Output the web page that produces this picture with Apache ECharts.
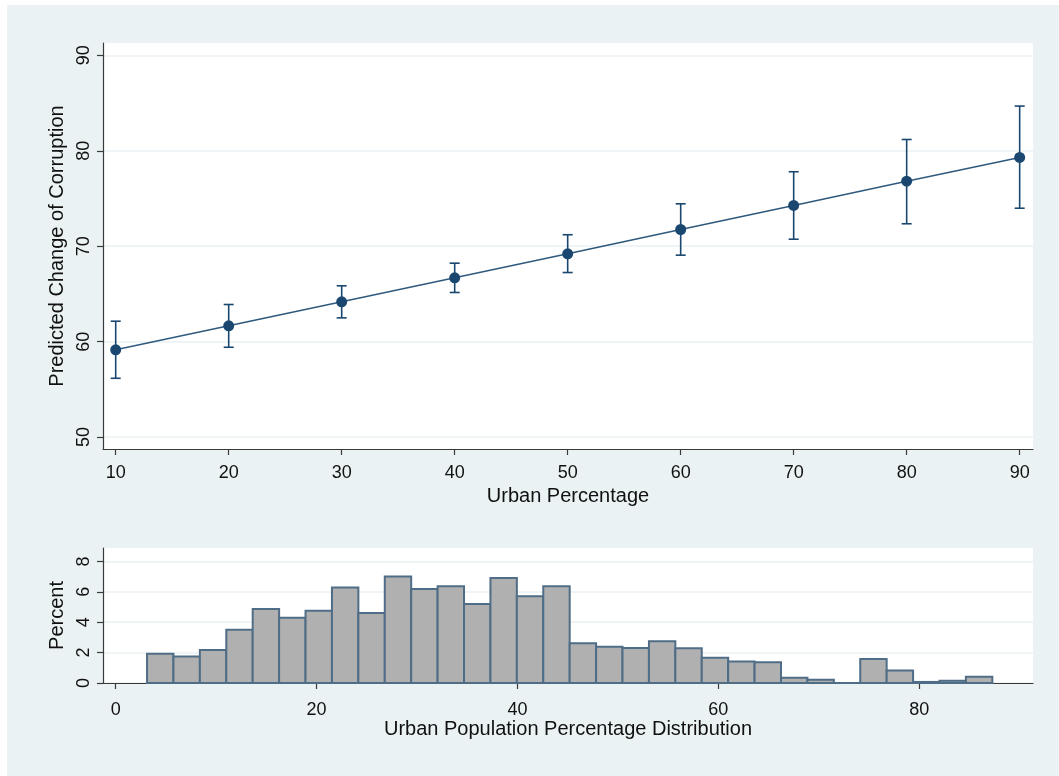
<!DOCTYPE html>
<html>
<head>
<meta charset="utf-8">
<script src="https://cdn.jsdelivr.net/npm/echarts@6/dist/echarts.min.js"></script>
<style>
  html, body { margin: 0; padding: 0; background: #ffffff; }
  #chart { position: absolute; left: 7px; top: 5px; width: 1052px; height: 771px; background: #EAF2F3; }
</style>
</head>
<body>
<div id="chart"></div>
<script>
// Predicted change of corruption by urban percentage (margins with 95% CI)
const urbanPct   = [10, 20, 30, 40, 50, 60, 70, 80, 90];
const predicted  = [59.14, 61.66, 64.17, 66.69, 69.20, 71.75, 74.27, 76.81, 79.30];
const ciLower    = [56.16, 59.41, 62.49, 65.15, 67.24, 69.06, 70.73, 72.35, 73.98];
const ciUpper    = [62.14, 63.89, 65.85, 68.22, 71.20, 74.44, 77.80, 81.18, 84.68];
const topXTicks  = [10, 20, 30, 40, 50, 60, 70, 80, 90];
const topYTicks  = [50, 60, 70, 80, 90];

// Histogram of urban population percentage (bin lower/upper edges and percent)
const binLow  = [3.12, 5.75, 8.38, 11.01, 13.64, 16.27, 18.90, 21.53, 24.16, 26.79, 29.42,
                 32.05, 34.68, 37.31, 39.94, 42.57, 45.20, 47.83, 50.46, 53.09, 55.72, 58.35,
                 60.98, 63.61, 66.24, 68.87, 71.50, 74.13, 76.76, 79.39, 82.02, 84.65];
const binHigh = [5.75, 8.38, 11.01, 13.64, 16.27, 18.90, 21.53, 24.16, 26.79, 29.42, 32.05,
                 34.68, 37.31, 39.94, 42.57, 45.20, 47.83, 50.46, 53.09, 55.72, 58.35, 60.98,
                 63.61, 66.24, 68.87, 71.50, 74.13, 76.76, 79.39, 82.02, 84.65, 87.28];
const binPercent = [1.93, 1.75, 2.17, 3.51, 4.87, 4.30, 4.76, 6.29, 4.61, 7.01, 6.18,
                    6.36, 5.20, 6.91, 5.70, 6.36, 2.61, 2.39, 2.30, 2.74, 2.28, 1.66,
                    1.42, 1.36, 0.35, 0.22, 0.00, 1.58, 0.83, 0.07, 0.14, 0.41];
const histXTicks = [0, 20, 40, 60, 80];
const histYTicks = [0, 2, 4, 6, 8];

const FONT = "'Liberation Sans', Arial, sans-serif";
const TEXT = '#111111';
const AXIS = '#3a3a3a';
const NAVY = '#1A476F';
const GRIDLINE = '#EAF2F3';

function xAxisCfg(gridIndex, min, max, ticks, name, labelMargin) {
  return {
    type: 'value', gridIndex, min, max,
    name, nameLocation: 'middle', nameGap: 35,
    nameTextStyle: { fontFamily: FONT, fontSize: 20, color: TEXT },
    axisLine: { show: true, onZero: false, lineStyle: { color: AXIS, width: 1.2 } },
    axisTick: { show: true, length: 6, customValues: ticks, lineStyle: { color: AXIS, width: 1.2 } },
    axisLabel: { customValues: ticks, margin: labelMargin, fontFamily: FONT, fontSize: 18, color: TEXT },
    splitLine: { show: false }
  };
}
function yAxisCfg(gridIndex, min, max, ticks, name) {
  return {
    type: 'value', gridIndex, min, max,
    name, nameLocation: 'middle', nameGap: 34, nameRotate: 90,
    nameTextStyle: { fontFamily: FONT, fontSize: 20, color: TEXT },
    axisLine: { show: true, onZero: false, lineStyle: { color: AXIS, width: 1.2 } },
    axisTick: { show: true, length: 6, customValues: ticks, lineStyle: { color: AXIS, width: 1.2 } },
    axisLabel: { customValues: ticks, rotate: 90, margin: 10, fontFamily: FONT, fontSize: 18, color: TEXT },
    splitLine: { show: true, lineStyle: { color: GRIDLINE, width: 1.5 } }
  };
}

const chart = echarts.init(document.getElementById('chart'), null, { renderer: 'canvas' });

chart.setOption({
  animation: false,
  backgroundColor: '#EAF2F3',
  grid: [
    { left: 96, top: 38, right: 26, height: 406, show: true, backgroundColor: '#ffffff', borderWidth: 0 },
    { left: 96, top: 543, right: 26, height: 135, show: true, backgroundColor: '#ffffff', borderWidth: 0 }
  ],
  xAxis: [
    xAxisCfg(0, 8.876, 91.18, topXTicks, 'Urban Percentage', 15),
    xAxisCfg(1, -1.265, 91.33, histXTicks, 'Urban Population Percentage Distribution', 18)
  ],
  yAxis: [
    yAxisCfg(0, 48.75, 91.29, topYTicks, 'Predicted Change of Corruption'),
    yAxisCfg(1, 0, 8.88, histYTicks, 'Percent')
  ],
  series: [
    {
      // confidence interval whiskers
      type: 'custom', xAxisIndex: 0, yAxisIndex: 0, z: 3,
      data: urbanPct.map((x, i) => [x, ciLower[i], ciUpper[i]]),
      encode: { x: 0, y: [1, 2] },
      renderItem(params, api) {
        const x = api.value(0);
        const lo = api.coord([x, api.value(1)]);
        const hi = api.coord([x, api.value(2)]);
        const cap = 5;
        const style = { stroke: NAVY, lineWidth: 1.6 };
        return {
          type: 'group',
          children: [
            { type: 'line', shape: { x1: lo[0], y1: lo[1], x2: hi[0], y2: hi[1] }, style },
            { type: 'line', shape: { x1: lo[0] - cap, y1: lo[1], x2: lo[0] + cap, y2: lo[1] }, style },
            { type: 'line', shape: { x1: hi[0] - cap, y1: hi[1], x2: hi[0] + cap, y2: hi[1] }, style }
          ]
        };
      }
    },
    {
      // point estimates
      type: 'line', xAxisIndex: 0, yAxisIndex: 0, z: 4,
      data: urbanPct.map((x, i) => [x, predicted[i]]),
      symbol: 'circle', symbolSize: 11,
      lineStyle: { color: '#2F5A7E', width: 1.6 },
      itemStyle: { color: NAVY, borderWidth: 0 }
    },
    {
      // histogram bars
      type: 'custom', xAxisIndex: 1, yAxisIndex: 1, z: 3,
      data: binLow.map((lo, i) => [lo, binHigh[i], binPercent[i]]),
      encode: { x: [0, 1], y: 2 },
      renderItem(params, api) {
        const tl = api.coord([api.value(0), api.value(2)]);
        const br = api.coord([api.value(1), 0]);
        return {
          type: 'rect',
          shape: { x: tl[0], y: tl[1], width: br[0] - tl[0], height: br[1] - tl[1] },
          style: { fill: '#B0B0B0', stroke: '#4F6D86', lineWidth: 2 }
        };
      }
    }
  ]
});
</script>
</body>
</html>
